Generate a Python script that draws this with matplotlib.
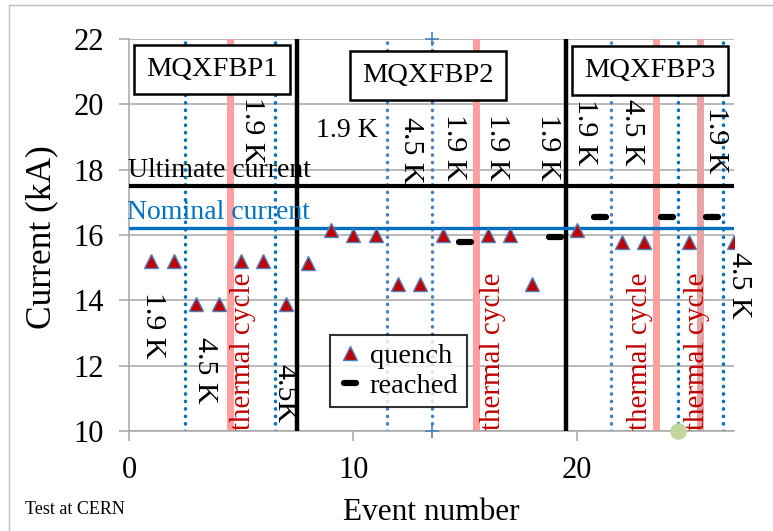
import matplotlib.pyplot as plt
from matplotlib.markers import MarkerStyle
from matplotlib.lines import Line2D

plt.rcParams['font.family'] = ['Liberation Serif', 'DejaVu Serif']

# quench and reached currents per event
quench_x = [1, 2, 3, 4, 5, 6, 7, 8, 9, 10, 11, 12, 13, 14, 16, 17, 18, 20, 22, 23, 25, 27]
quench_y = [15.2, 15.2, 13.9, 13.9, 15.2, 15.2, 13.9, 15.15, 16.15, 16.0, 16.0, 14.5, 14.5,
            16.0, 16.0, 16.0, 14.5, 16.15, 15.8, 15.8, 15.8, 15.8]
reached_x = [15, 19, 21, 24, 26]
reached_y = [15.8, 15.95, 16.55, 16.55, 16.55]

ultimate = 17.5
nominal = 16.23

magnet_sep_x = [7.5, 19.5]
thermal_cycle_x = [4.5, 15.5, 23.5, 25.5]
temp_change_x = [2.5, 6.5, 11.5, 13.5, 21.5, 24.5, 26.5]
temp_change_col = ['#0070c0', '#0070c0', '#4f81bd', '#4f81bd', '#4f81bd', '#0070c0', '#0070c0']

magnets = ['MQXFBP1', 'MQXFBP2', 'MQXFBP3']
magnet_lbl_x = [3.7, 13.35, 23.25]
magnet_lbl_y = [21.08, 20.87, 21.05]

temp_txt = ['1.9 K', '4.5 K', '4.5K', '1.9 K', '1.9 K', '4.5 K', '1.9 K', '1.9 K', '1.9 K',
            '1.9 K', '4.5 K', '1.9 K', '4.5 K']
temp_txt_x = [1.05, 3.4, 6.95, 5.5, 9.7, 12.6, 14.5, 16.4, 18.7, 20.35, 22.45, 26.2, 27.2]
temp_txt_y = [13.25, 11.85, 11.15, 19.2, 19.2, 18.6, 18.7, 18.7, 18.7, 19.15, 19.15, 18.9, 14.45]
temp_txt_rot = [270, 270, 270, 270, 0, 270, 270, 270, 270, 270, 270, 270, 270]

tc_txt_x = [5.1, 16.25, 22.8, 25.35]

fig = plt.figure(figsize=(7.73, 5.31), dpi=100)
ax = fig.add_axes([0.1669, 0.1883, 0.7827, 0.7382])

ax.set_xlim(0, 27)
ax.set_ylim(10, 22)
ax.set_yticks(range(10, 23, 2))
ax.set_xticks([0, 10, 20])
ax.yaxis.grid(True, color='#a6a6a6', lw=1.1)
ax.set_axisbelow(True)
for s in ['top', 'right']:
    ax.spines[s].set_visible(False)
for s in ['left', 'bottom']:
    ax.spines[s].set_color('#a6a6a6')
    ax.spines[s].set_linewidth(1.1)
ax.tick_params(axis='both', direction='out', length=7, width=1.1, color='#a6a6a6',
               labelsize=22, pad=11)

# vertical separators
for i, x in enumerate(temp_change_x):
    ax.axvline(x, color=temp_change_col[i], lw=2.5, ls=(0, (0.1, 2.05)),
               dash_capstyle='round', zorder=2)
ax.plot([13.5, 13.5], [10, 22], ls='none', marker='+', ms=10, mew=1.2,
        color='#4f81bd', clip_on=False, zorder=3)
for i, x in enumerate(thermal_cycle_x):
    c = '#e6a3a5' if i == 3 else '#ff9f9f'
    ax.axvline(x, color=c, lw=5, zorder=2)
for x in magnet_sep_x:
    ax.axvline(x, color='black', lw=3.2, zorder=3)

ax.axhline(ultimate, color='black', lw=3.0, zorder=3)
ax.axhline(nominal, color='#0070c0', lw=2.4, zorder=3)
ax.text(-0.05, ultimate + 0.08, 'Ultimate current', fontsize=20, va='bottom', ha='left', zorder=4)
ax.text(-0.1, nominal + 0.08, 'Nominal current', fontsize=20, va='bottom', ha='left',
        color='#0070c0', zorder=4)

ax.plot([24.5], [10], 'o', color='#c3d69b', ms=11, clip_on=False, zorder=5)

q, = ax.plot(quench_x, quench_y, ls='none', marker='^', ms=10.5, mfc='#c00000',
             mec='#4f81bd', mew=1, zorder=6, label='quench')
r, = ax.plot(reached_x, reached_y, ls='none', marker=MarkerStyle('_', capstyle='round'),
             ms=8, mew=4.5, color='black', zorder=6, label='reached')

for i, m in enumerate(magnets):
    ax.text(magnet_lbl_x[i], magnet_lbl_y[i], m, fontsize=20.5, ha='center', va='center',
            zorder=7, bbox=dict(boxstyle='square,pad=0.42', fc='white', ec='black', lw=1.8))

for i, t in enumerate(temp_txt):
    fs = 20 if temp_txt_rot[i] == 0 else 21.5
    ax.text(temp_txt_x[i], temp_txt_y[i], t, fontsize=fs, rotation=temp_txt_rot[i],
            ha='center', va='center', zorder=7, clip_on=False)

for x in tc_txt_x:
    ax.text(x, 10.02, 'thermal cycle', fontsize=21, rotation=90, color='#c00000',
            ha='center', va='bottom', zorder=7)

leg = ax.legend(handles=[q, r], loc='upper left', bbox_to_anchor=(0.332, 0.245),
                fontsize=20.5, frameon=True, fancybox=False, edgecolor='black',
                handlelength=0.8, handletextpad=0.3, borderpad=0.3, labelspacing=0.12,
                borderaxespad=0)
leg.get_frame().set_linewidth(1.5)
leg.set_zorder(8)

ax.set_xlabel('Event number', fontsize=22.5)
ax.set_ylabel('Current (kA)', fontsize=25.5)
ax.xaxis.set_label_coords(0.5, -0.207)
ax.xaxis.label.set_va('center')
ax.yaxis.set_label_coords(-0.144, 0.495)
ax.yaxis.label.set_va('center')

fig.text(0.032, 0.04, 'Test at CERN', fontsize=13, ha='left', va='center')

# light frame around the picture
fig.add_artist(Line2D([0.012, 0.012], [0, 0.99], color='#bfbfbf', lw=1, transform=fig.transFigure))
fig.add_artist(Line2D([0.012, 1], [0.99, 0.99], color='#bfbfbf', lw=1, transform=fig.transFigure))

fig.savefig('out.png', dpi=100)
